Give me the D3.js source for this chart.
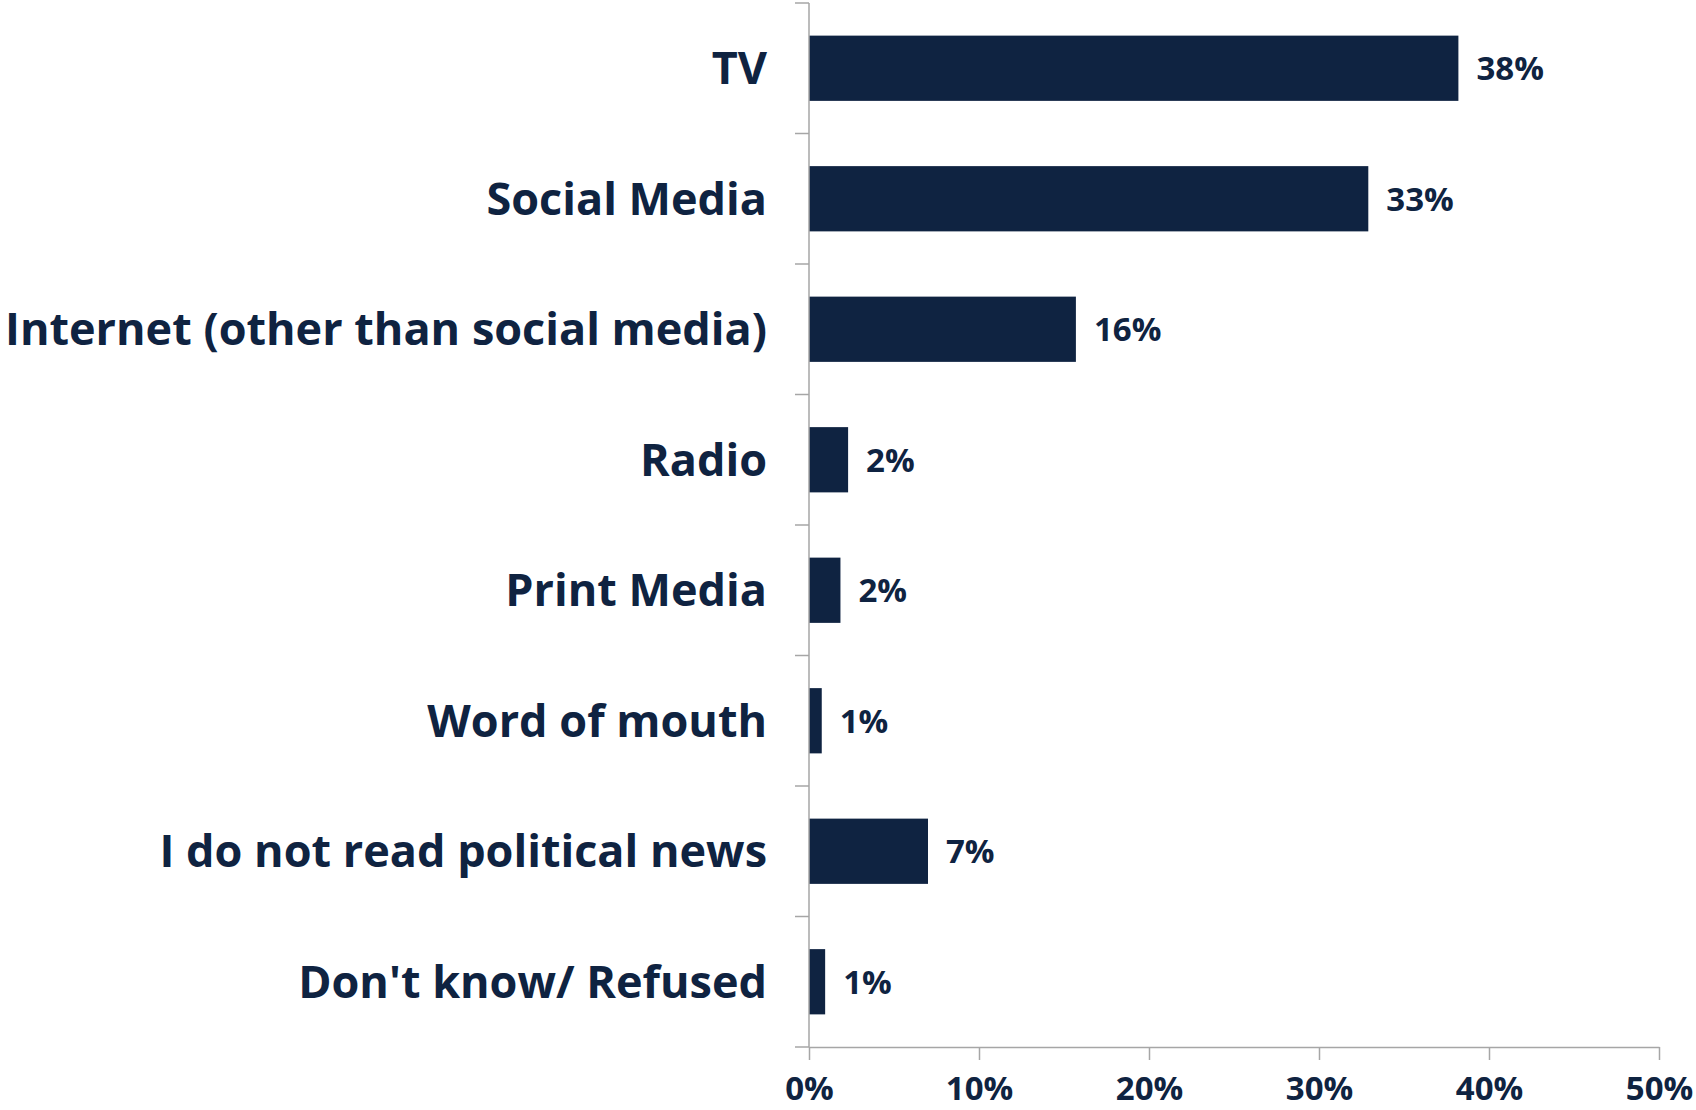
<!DOCTYPE html>
<html><head><meta charset="utf-8">
<script src="https://cdn.jsdelivr.net/npm/d3@7"></script>
<style>body{margin:0;background:#fff;} svg{display:block;}</style>
</head><body>
<svg id="chart" width="1696" height="1110"></svg>
<script>
const categories = ["TV","Social Media","Internet (other than social media)","Radio","Print Media","Word of mouth","I do not read political news","Don't know/ Refused"];
const values = [38.2, 32.9, 15.7, 2.3, 1.85, 0.75, 7.0, 0.95];
const valueLabels = ["38%","33%","16%","2%","2%","1%","7%","1%"];
const tickValues = [0,10,20,30,40,50];
const tickLabels = ["0%","10%","20%","30%","40%","50%"];

(function(){
const svg = d3.select("#chart");
const mLeft = 809, mRight = 1659, mTop = 3, mBottom = 1047;
const navy = "#0f2341";
const axisGray = "#a6a6a6";

const x = d3.scaleLinear().domain([0,50]).range([mLeft,mRight]);
const y = d3.scaleBand().domain(categories).range([mTop,mBottom]).padding(0);
const barH = y.bandwidth()*0.5;

// bars
svg.selectAll("rect.bar").data(categories).enter().append("rect")
  .attr("class","bar")
  .attr("x", x(0))
  .attr("y", d => y(d) + (y.bandwidth()-barH)/2)
  .attr("width", (d,i) => x(values[i]) - x(0))
  .attr("height", barH)
  .attr("fill", navy);

// value labels
svg.selectAll("text.val").data(categories).enter().append("text")
  .attr("class","val")
  .attr("x", (d,i) => x(values[i]) + 18)
  .attr("y", d => y(d) + y.bandwidth()/2)
  .attr("dy","0.36em")
  .attr("font-family","'Open Sans', sans-serif")
  .attr("font-weight",700)
  .attr("font-size",33)
  .attr("fill", navy)
  .text((d,i) => valueLabels[i]);

// y axis
const yAxisG = svg.append("g").attr("transform",`translate(${mLeft},0)`);
yAxisG.append("line").attr("x1",0).attr("x2",0).attr("y1",mTop).attr("y2",mBottom).attr("stroke",axisGray).attr("stroke-width",1.5);
const yTicks = categories.map(d => y(d)).concat([mBottom]);
yAxisG.selectAll("line.yt").data(yTicks).enter().append("line")
  .attr("class","yt").attr("x1",-14).attr("x2",0).attr("y1",d=>d).attr("y2",d=>d)
  .attr("stroke",axisGray).attr("stroke-width",1.5);
yAxisG.selectAll("text.cat").data(categories).enter().append("text")
  .attr("class","cat")
  .attr("x",-42)
  .attr("y", d => y(d) + y.bandwidth()/2)
  .attr("dy","0.36em")
  .attr("text-anchor","end")
  .attr("font-family","'Open Sans', sans-serif")
  .attr("font-weight",700)
  .attr("font-size",45)
  .attr("fill", navy)
  .text(d => d);

// x axis
const xAxis = d3.axisBottom(x).tickValues(tickValues).tickFormat((d,i)=>tickLabels[i]).tickSize(13).tickSizeOuter(0);
const xg = svg.append("g").attr("transform",`translate(0,${mBottom})`).call(xAxis);
xg.select(".domain").attr("stroke",axisGray).attr("stroke-width",1.5);
xg.selectAll(".tick line").attr("stroke",axisGray).attr("stroke-width",1.5);
xg.selectAll(".tick text")
  .attr("y",30).attr("dy","0.71em")
  .attr("font-family","'Open Sans', sans-serif")
  .attr("font-weight",700)
  .attr("font-size",33)
  .attr("fill",navy);
})();
</script>
</body></html>
